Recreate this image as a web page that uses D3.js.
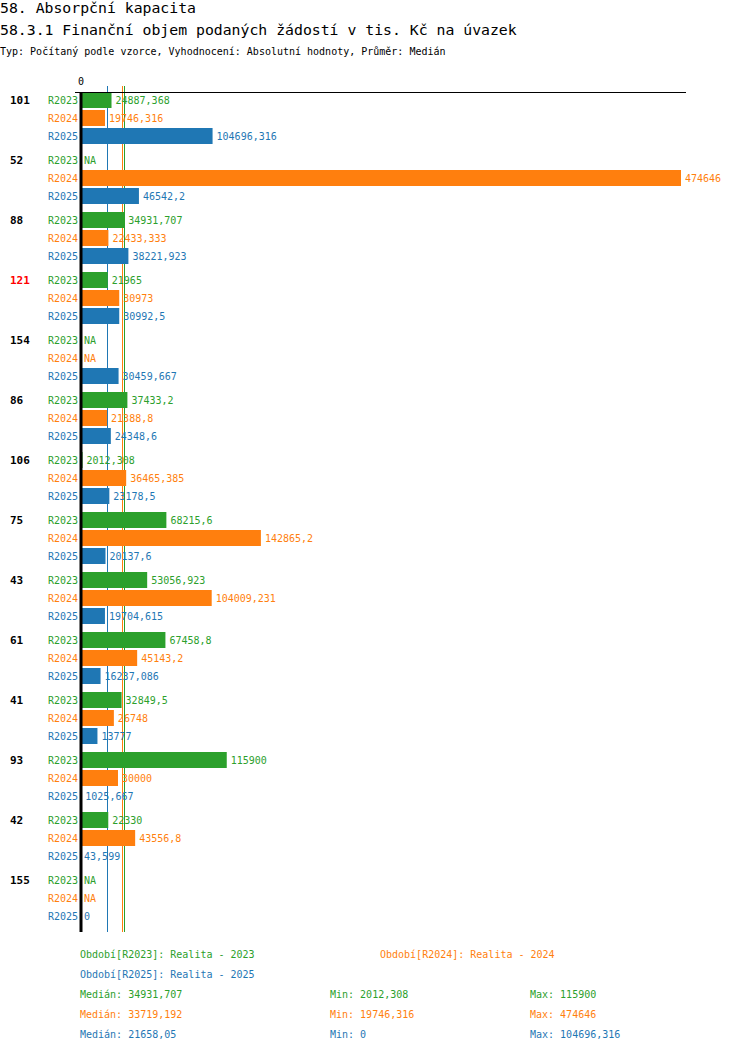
<!DOCTYPE html>
<html>
<head>
<meta charset="utf-8">
<script src="https://cdn.jsdelivr.net/npm/d3@7"></script>
<style>
  body { margin: 0; background: #fff; }
  text { font-family: "DejaVu Sans Mono", "Liberation Mono", monospace; }
</style>
</head>
<body>
<div id="chart"></div>
<script>
const groups = ["101", "52", "88", "121", "154", "86", "106", "75", "43", "61", "41", "93", "42", "155"];
const series = ["R2023", "R2024", "R2025"];
const seriesNames = ["Realita - 2023", "Realita - 2024", "Realita - 2025"];
const colors = ["#2ca02c", "#ff7f0e", "#1f77b4"];
const highlighted = ["121"];

const r2023 = [24887.368, null, 34931.707, 21965, null, 37433.2, 2012.308, 68215.6, 53056.923, 67458.8, 32849.5, 115900, 22330, null];
const r2024 = [19746.316, 474646, 22433.333, 30973, null, 21388.8, 36465.385, 142865.2, 104009.231, 45143.2, 26748, 30000, 43556.8, null];
const r2025 = [104696.316, 46542.2, 38221.923, 30992.5, 30459.667, 24348.6, 23178.5, 20137.6, 19704.615, 16237.086, 13777, 1025.667, 43.599, 0];
const values = [r2023, r2024, r2025];

const width = 750, height = 1052;
const plotTop = 92, plotBottom = 932;

// 3 decimals, truncated, czech decimal comma
const fmt = v => String(+v.toFixed(4).slice(0, -1)).replace(".", ",");

const svg = d3.select("#chart").append("svg")
    .attr("width", width)
    .attr("height", height);

// header
svg.append("text").attr("x", 0).attr("y", 8).attr("dy", "0.35em")
    .attr("font-size", 14.8).text("58. Absorpční kapacita");
svg.append("text").attr("x", 0).attr("y", 30).attr("dy", "0.35em")
    .attr("font-size", 14.8).text("58.3.1 Finanční objem podaných žádostí v tis. Kč na úvazek");
svg.append("text").attr("x", 0).attr("y", 51).attr("dy", "0.35em")
    .attr("font-size", 10).text("Typ: Počítaný podle vzorce, Vyhodnocení: Absolutní hodnoty, Průměr: Medián");

const x = d3.scaleLinear().domain([0, d3.max(values.flat())]).range([80, 681]);
const y0 = d3.scaleBand().domain(groups).range([plotTop, plotBottom]);
const y1 = d3.scaleBand().domain(series).range([0, 52]).paddingInner(1 / 9);

const rows = [];
groups.forEach((g, gi) => series.forEach((s, si) => {
    rows.push({group: g, series: s, si, value: values[si][gi]});
}));

// median lines
const stats = values.map(arr => {
    const v = arr.filter(d => d != null);
    return {median: d3.median(v), min: d3.min(v), max: d3.max(v)};
});

svg.append("g")
    .selectAll("line")
    .data(stats)
    .join("line")
    .attr("x1", d => Math.floor(x(d.median)) + 0.5)
    .attr("x2", d => Math.floor(x(d.median)) + 0.5)
    .attr("y1", 86)
    .attr("y2", plotBottom)
    .attr("stroke", (d, i) => colors[i])
    .attr("stroke-width", 1);

// bars
svg.append("g")
    .selectAll("rect")
    .data(rows.filter(d => d.value != null))
    .join("rect")
    .attr("x", x(0))
    .attr("y", d => y0(d.group) + y1(d.series))
    .attr("width", d => x(d.value) - x(0))
    .attr("height", y1.bandwidth())
    .attr("fill", d => colors[d.si]);

// value labels
svg.append("g")
    .attr("font-size", 10)
    .selectAll("text")
    .data(rows)
    .join("text")
    .attr("x", d => (d.value == null ? x(0) : x(d.value)) + 4)
    .attr("y", d => y0(d.group) + y1(d.series) + y1.bandwidth() / 2)
    .attr("dy", "0.35em")
    .attr("fill", d => colors[d.si])
    .text(d => d.value == null ? "NA" : fmt(d.value));

// series labels
svg.append("g")
    .attr("font-size", 10)
    .attr("text-anchor", "end")
    .selectAll("text")
    .data(rows)
    .join("text")
    .attr("x", 78)
    .attr("y", d => y0(d.group) + y1(d.series) + y1.bandwidth() / 2)
    .attr("dy", "0.35em")
    .attr("fill", d => colors[d.si])
    .text(d => d.series);

// group labels
svg.append("g")
    .attr("font-size", 11)
    .attr("font-weight", "bold")
    .selectAll("text")
    .data(groups)
    .join("text")
    .attr("x", 10)
    .attr("y", d => y0(d) + y1.bandwidth() / 2)
    .attr("dy", "0.35em")
    .attr("fill", d => highlighted.includes(d) ? "red" : "#000")
    .text(d => d);

// axes
svg.append("line")
    .attr("x1", 75).attr("x2", 686)
    .attr("y1", plotTop + 0.5).attr("y2", plotTop + 0.5)
    .attr("stroke", "#000");
svg.append("line")
    .attr("x1", x(0) + 1).attr("x2", x(0) + 1)
    .attr("y1", plotTop).attr("y2", plotBottom)
    .attr("stroke", "#000")
    .attr("stroke-width", 3);
svg.append("text")
    .attr("x", x(0) + 1).attr("y", 81).attr("dy", "0.35em")
    .attr("font-size", 10).attr("text-anchor", "middle")
    .text("0");

// footer legend
const foot = svg.append("g").attr("font-size", 10);
const legendPos = [[80, 954], [380, 954], [80, 974]];
series.forEach((s, i) => {
    foot.append("text")
        .attr("x", legendPos[i][0]).attr("y", legendPos[i][1]).attr("dy", "0.35em")
        .attr("fill", colors[i])
        .text(`Období[${s}]: ${seriesNames[i]}`);
});
stats.forEach((st, i) => {
    const yy = 994 + i * 20;
    [[80, "Medián: " + fmt(st.median)], [330, "Min: " + fmt(st.min)], [530, "Max: " + fmt(st.max)]]
        .forEach(([xx, t]) => foot.append("text")
            .attr("x", xx).attr("y", yy).attr("dy", "0.35em")
            .attr("fill", colors[i])
            .text(t));
});
</script>
</body>
</html>
